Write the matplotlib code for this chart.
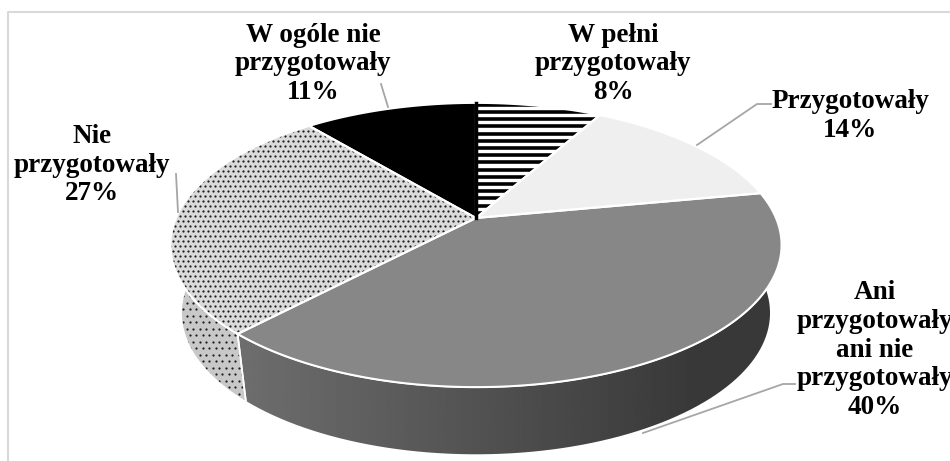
import numpy as np
import matplotlib
matplotlib.use("Agg")
import matplotlib.pyplot as plt
from matplotlib.patches import Polygon

# dane
labels = ["W pełni\nprzygotowały", "Przygotowały", "Ani\nprzygotowały\nani nie\nprzygotowały",
          "Nie\nprzygotowały", "W ogóle nie\nprzygotowały"]
values = [8, 14, 40, 27, 11]

# wyglad wycinkow
tops = ["white", "#efefef", "#878787", "#dadada", "black"]
texture = ["lines", None, None, "dots", None]
sides = ["black", "#d0d0d0", "#555555", "#c8c8c8", "black"]

# pozycje etykiet i linie odniesienia (piksele)
label_xy = [(613, 64), (850, 116), (875, 350), (92, 165), (313, 64)]
leaders = [None, [(697, 145), (757, 104), (771, 104)], [(643, 433), (783, 384), (795, 384)],
           [(178, 212), (176, 174)], [(388, 107), (381, 84)]]

W, H = 950, 461
cx, cy, rx, ry, k = 476, 218, 300, 137, 0.19
depth, shrink = 68, 0.965


def top_pt(t):
    t = np.radians(t)
    u, v = np.sin(t), -np.cos(t)
    s = 1 / (1 - k * v)
    return cx + rx * u * s, cy + ry * v * s


def bot_pt(t):
    x, y = top_pt(t)
    return cx + (x - cx) * shrink, y + depth


def add_texture(kind, poly, pts, z, step=5.0):
    xs = np.array([p[0] for p in pts])
    ys = np.array([p[1] for p in pts])
    if kind == "lines":
        yy = np.arange(ys.min() + 2, ys.max() + 7, 7.2)
        lc = ax.hlines(yy, xs.min() - 2, xs.max() + 2, color="black", lw=2.6, zorder=z)
        lc.set_clip_path(poly)
    elif kind == "dots":
        gx, gy = np.meshgrid(np.arange(xs.min(), xs.max() + step, step),
                             np.arange(ys.min(), ys.max() + step, step))
        gx = gx + (np.arange(gx.shape[0])[:, None] % 2) * step / 2
        sc = ax.scatter(gx.ravel(), gy.ravel(), s=2.6, color="#1e1e1e", lw=0, zorder=z)
        sc.set_clip_path(poly)


fig = plt.figure(figsize=(W / 100, H / 100), dpi=100)
ax = fig.add_axes([0, 0, 1, 1])
ax.set_xlim(0, W)
ax.set_ylim(H, 0)
ax.axis("off")

# ramka wykresu
ax.plot([7.5, 7.5, W], [H, 12, 12], color="#d9d9d9", lw=1.5)

ang = np.concatenate([[0], np.cumsum(values)]) * 3.6

# boki (tylko przod 90..270)
for i in range(len(values)):
    a0, a1 = max(ang[i], 90), min(ang[i + 1], 270)
    if a1 <= a0:
        continue
    ts = np.linspace(a0, a1, 80)
    pts = [top_pt(t) for t in ts] + [bot_pt(t) for t in ts[::-1]]
    poly = Polygon(pts, closed=True, facecolor=sides[i], edgecolor="none", zorder=1)
    ax.add_patch(poly)
    if texture[i]:
        add_texture(texture[i], poly, pts, 1.5, step=6.5)
    if i == 2:
        # gradient na boku
        xs = np.array([p[0] for p in pts])
        ys = np.array([p[1] for p in pts])
        grad = np.clip((np.linspace(xs.min(), xs.max(), 300) - 240) / 460, 0, 1)
        grad = 0.43 - grad * 0.21
        im = ax.imshow(np.tile(grad, (2, 1)), cmap="gray", vmin=0, vmax=1, aspect="auto",
                       extent=[xs.min(), xs.max(), ys.max(), ys.min()], zorder=1.5)
        im.set_clip_path(poly)
    ax.add_patch(Polygon(pts, closed=True, facecolor="none", edgecolor="white", lw=1.2, zorder=2))

# gora
for i in range(len(values)):
    ts = np.linspace(ang[i], ang[i + 1], 120)
    pts = [(cx, cy)] + [top_pt(t) for t in ts]
    poly = Polygon(pts, closed=True, facecolor=tops[i], edgecolor="none", zorder=3)
    ax.add_patch(poly)
    if texture[i]:
        add_texture(texture[i], poly, pts, 3.5)
    ax.add_patch(Polygon(pts, closed=True, facecolor="none", edgecolor="white", lw=1.5, zorder=4))

# krawedz pionowa przy czarnym wycinku
ax.plot([cx, cx], [cy, top_pt(0)[1]], color="black", lw=2.5, zorder=4.5)

# etykiety
for i in range(len(values)):
    ax.text(label_xy[i][0], label_xy[i][1], f"{labels[i]}\n{values[i]}%", ha="center", va="center",
            fontsize=19.5, fontweight="bold", family="Liberation Serif", linespacing=1.2, zorder=6)
    if leaders[i]:
        xs, ys = zip(*leaders[i])
        ax.plot(xs, ys, color="#a6a6a6", lw=1.3, zorder=5)

fig.savefig("out.png", dpi=100)
